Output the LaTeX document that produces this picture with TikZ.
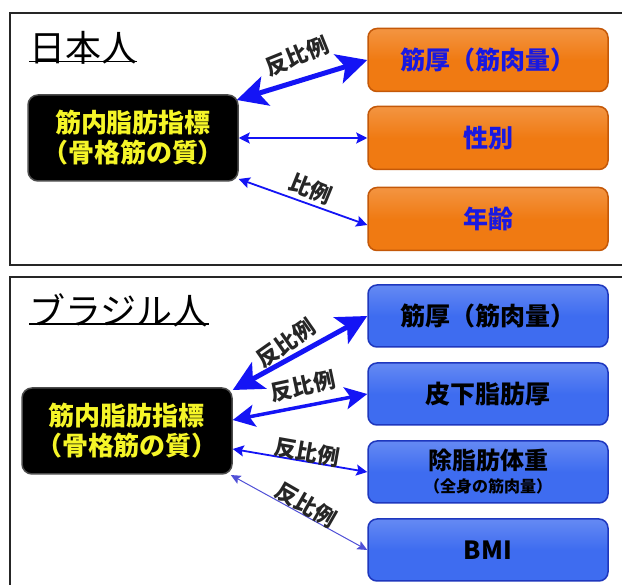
\documentclass[tikz,border=0pt]{standalone}
\usepackage{fontspec}
\newfontfamily\jp{Noto Sans CJK JP}
\usetikzlibrary{arrows.meta,calc}
\definecolor{orfill}{RGB}{240,122,18}
\definecolor{ordraw}{RGB}{196,88,8}
\definecolor{blfill}{RGB}{62,108,240}
\definecolor{bldraw}{RGB}{30,55,190}
\definecolor{arrblue}{RGB}{20,20,245}
\definecolor{arrlight}{RGB}{80,80,215}
\definecolor{yel}{RGB}{245,245,40}
\definecolor{txtblue}{RGB}{25,25,225}
\tikzset{
  panel/.style={draw=black!85,line width=2pt},
  title/.style={font=\jp\fontsize{36}{40}\selectfont,anchor=west,inner sep=0pt},
  blackbox/.style={rounded corners=10pt,fill=black,draw=black!70,line width=1.5pt,minimum width=210pt,minimum height=86pt,align=center,text=yel,font=\jp\bfseries\fontsize{26}{30}\selectfont},
  orbox/.style={rounded corners=9pt,top color=orfill!80!white,bottom color=orfill,middle color=orfill,draw=ordraw,line width=1.5pt,minimum width=240pt,minimum height=63pt,align=center,text=txtblue,font=\jp\bfseries\fontsize{25}{28}\selectfont},
  bluebox/.style={rounded corners=9pt,top color=blfill!80!white,bottom color=blfill,middle color=blfill,draw=bldraw,line width=1.5pt,minimum width=240pt,minimum height=62pt,align=center,text=black,font=\jp\bfseries\fontsize{25}{28}\selectfont},
  lbl/.style={font=\jp\bfseries\fontsize{22}{24}\selectfont,text=black!85,inner sep=0pt},
  thickarr/.style={draw=arrblue,line width=5pt,{Stealth[length=30pt,width=30pt,inset=7pt]}-{Stealth[length=30pt,width=30pt,inset=7pt]}},
  medarr/.style={draw=arrblue,line width=3.5pt,{Stealth[length=22pt,width=22pt,inset=5pt]}-{Stealth[length=22pt,width=22pt,inset=5pt]}},
  thinarr/.style={draw=arrblue,line width=1.8pt,{Stealth[length=11pt,width=11pt,inset=2pt]}-{Stealth[length=11pt,width=11pt,inset=2pt]}},
  hairarr/.style={draw=arrlight,line width=1pt,{Stealth[length=10pt,width=9pt,inset=2pt]}-{Stealth[length=10pt,width=9pt,inset=2pt]}},
}
\begin{document}
\begin{tikzpicture}[x=1pt,y=-1pt]
\useasboundingbox (0,0) rectangle (622,585);
\fill[white] (0,0) rectangle (622,585);
% panels
\draw[panel] (10,13) rectangle (640,265);
\draw[panel] (10,277) rectangle (640,600);
% titles
\node[title] (t1) at (29,48) {日本人};
\draw[line width=1.5pt] ($(t1.south west)+(0,-3)$) coordinate (u1a) -- ($(t1.south east)+(0,-3)$) coordinate (u1b);
\node[title] (t2) at (29,310) {ブラジル人};
\draw[line width=1.5pt] ($(t2.south west)+(0,-3)$) coordinate (u2a) -- ($(t2.south east)+(0,-3)$) coordinate (u2b);
% top panel
\node[blackbox] (jb) at (133,138) {筋内脂肪指標\\（骨格筋の質）};
\node[orbox] (j1) at (488,60) {筋厚（筋肉量）};
\node[orbox] (j2) at (488,138) {性別};
\node[orbox] (j3) at (488,219) {年齢};
\draw[thickarr] ([yshift=38pt,xshift=-2pt]jb.east) -- (j1.west);
\draw[thinarr] (jb.east) -- (j2.west);
\draw[thinarr] ([yshift=-41pt]jb.east) -- ([yshift=-6pt]j3.west);
\node[lbl,rotate=22] (jl1) at (297,56) {反比例};
\node[lbl,rotate=-22] (jl2) at (311,189) {比例};
% bottom panel
\node[blackbox] (bb) at (127,431) {筋内脂肪指標\\（骨格筋の質）};
\node[bluebox] (b1) at (488,316) {筋厚（筋肉量）};
\node[bluebox] (b2) at (488,394) {皮下脂肪厚};
\node[bluebox,font=\jp\bfseries\fontsize{24}{26}\selectfont] (b3) at (488,472) {除脂肪体重\\[-3pt]{\fontsize{16}{18}\selectfont （全身の筋肉量）}};
\node[bluebox] (b4) at (488,550) {BMI};
\draw[thickarr] ([yshift=41pt]bb.east) -- (b1.west);
\draw[medarr] ([yshift=11pt]bb.east) -- (b2.west);
\draw[thinarr] ([yshift=-18pt]bb.east) -- (b3.west);
\draw[hairarr] ([yshift=-44pt,xshift=-2pt]bb.east) -- (b4.west);
\node[lbl,rotate=35] (bl1) at (286,343) {反比例};
\node[lbl,rotate=12] (bl2) at (303,386) {反比例};
\node[lbl,rotate=-10] (bl3) at (307,452) {反比例};
\node[lbl,rotate=-30] (bl4) at (306,505) {反比例};
\end{tikzpicture}
\end{document}
